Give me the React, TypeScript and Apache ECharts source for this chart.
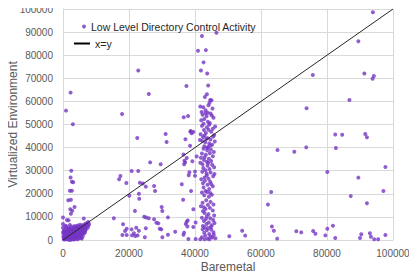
import React, { useEffect, useRef } from "react";
import * as echarts from "echarts";

const seriesName = "Low Level Directory Control Activity";
const lineName = "x=y";
const xAxisTitle = "Baremetal";
const yAxisTitle = "Virtualized Environment";

// [baremetal, virtualized]
const scatteredPoints: number[][] = [
  [2300, 63800], [900, 56000], [3000, 50100], [22800, 73400], [26000, 63200], [17900, 54500],
  [36600, 53100], [22500, 44200], [31100, 45900], [31400, 42400],
  [42100, 88300], [46500, 89700], [40900, 81900], [43300, 82200], [42600, 76900], [41800, 73400],
  [43700, 72100], [44000, 66900], [37400, 66700], [43600, 63100], [43000, 61900], [44600, 60600],
  [45000, 60500], [44400, 59400], [37900, 53700],
  [93900, 98600], [89500, 86000], [75700, 71400], [91300, 72100], [94200, 71000], [93800, 69800],
  [86800, 60600], [73800, 57000], [82500, 45700], [84600, 45600], [91600, 45900], [92100, 44500],
  [65000, 39000], [70100, 38200], [73700, 40100], [82700, 39800], [97700, 31600], [80100, 29400],
  [89500, 27000], [63100, 20800], [97100, 21200], [87200, 19000], [92100, 15900], [62100, 15400],
  [63300, 5800], [63900, 4000], [64900, 600], [70700, 3800], [72200, 3300], [75800, 3900],
  [76500, 2700], [79500, 2000], [80100, 4900], [81800, 6200], [82500, 900], [90000, 900],
  [90400, 2500], [93000, 2900], [93300, 1400], [94300, 300], [95500, 300], [97700, 2200],
  [50400, 1600], [54300, 4000], [55200, 1900],
  [22800, 29900], [20800, 29900], [26400, 33600], [29600, 32800], [36500, 37000], [37500, 35500],
  [37000, 33600], [36700, 32800], [39000, 46200], [39500, 46800], [38500, 40800], [39200, 34100],
  [38300, 29300], [38100, 28000], [36000, 24100], [38800, 21200], [36400, 17400], [39500, 13300],
  [23300, 24800], [24200, 24500], [25100, 23100], [27600, 23400], [27900, 21200], [23000, 20000],
  [23100, 17900], [21800, 12600], [29900, 14300], [30100, 12600],
  [24600, 10100], [25200, 9700], [26000, 9400], [27600, 9000], [28300, 7500], [28900, 7200],
  [31800, 9800], [37800, 8500], [37200, 6900], [39500, 5600],
  [22200, 5300], [20800, 4600], [23000, 4000], [21500, 2900], [20900, 2000], [21900, 1700],
  [22600, 2000], [25100, 5100], [24800, 1200], [29300, 4900], [29800, 4600], [30100, 1200],
  [31800, 2300], [34000, 3600], [36500, 2300], [38000, 400], [40200, 400],
  [15400, 9400], [18200, 6800], [19300, 4900], [18800, 3900], [18000, 2200], [19300, 2200],
  [17400, 27700], [17000, 26300], [19200, 24700], [20100, 19200],
  [38600, 46900], [37100, 43600], [36800, 34300], [37500, 7900], [36700, 3200], [37700, 5800],
  [40500, 36200], [40000, 29600], [40000, 27800], [40200, 7600], [38700, 47200],
];

const bandPoints: number[][] = [
  [42500, 57500], [43200, 56200], [44100, 58300], [42000, 55400], [45300, 56900], [43800, 55100], [41600, 57800],
  [42300, 54200], [43500, 53600], [44700, 54800], [42800, 52400], [45600, 52900], [41900, 51800], [43900, 51200],
  [44500, 50600], [42600, 50300], [45100, 53900], [43200, 54900],
  [42100, 49400], [43600, 48800], [44300, 49900], [45400, 48200], [42700, 47600], [44900, 46900], [43300, 46300],
  [41700, 45800], [45800, 45400], [44100, 47700], [42900, 45200], [46100, 49100],
  [42400, 44600], [43800, 44100], [44700, 43500], [45500, 44800], [42200, 42900], [43100, 42300], [44300, 41800],
  [45200, 41200], [42800, 40600], [43900, 40200], [41500, 43300], [46000, 42600], [44600, 40900], [43400, 43700],
  [42600, 39500], [43700, 38800], [44800, 39200], [45700, 38100], [42100, 37400], [43300, 36900], [44500, 37600],
  [42900, 35800], [44200, 35200], [45400, 36300], [41800, 35600], [43700, 39900],
  [42700, 34600], [43600, 33900], [44900, 34200], [42300, 32800], [43800, 32100], [45200, 32600], [42500, 31200],
  [44400, 30700], [43200, 30200], [45800, 31500], [41600, 33400], [44000, 33300],
  [42200, 29500], [43500, 28800], [44700, 29200], [45500, 27600], [42900, 27100], [44100, 26500], [43000, 25600],
  [44600, 25200], [41900, 26300], [45900, 28600], [43600, 27900],
  [42400, 24600], [43800, 23900], [44900, 24200], [42600, 22700], [44300, 22100], [45400, 23300], [43200, 21200],
  [42100, 20600], [44600, 20300], [43700, 20800],
  [42800, 19400], [44200, 18700], [45100, 19600], [43400, 17200], [44700, 16500], [42300, 16100], [45600, 15400],
  [43900, 15200],
  [41800, 14600], [42700, 14200], [43200, 13400], [44500, 13900], [45400, 12800], [42900, 11700], [44100, 11200],
  [45800, 10600], [43600, 10300], [42400, 12500],
  [42100, 9600], [43300, 9100], [44600, 9400], [45500, 8700], [42700, 8200], [44200, 7600], [43500, 6900],
  [45100, 6400], [42400, 6100], [44800, 5600], [43900, 5200], [45900, 7400], [42900, 5400],
  [42300, 4600], [43600, 4200], [44900, 4500], [45600, 3400], [42800, 3100], [44300, 2600], [43100, 1900],
  [44700, 1500], [42100, 1200], [45300, 1100], [43800, 600], [41600, 300], [44400, 300], [46200, 800],
  [42900, 300], [45700, 2300],
];

const originPoints: number[][] = [
  [200, 300], [600, 1100], [900, 400], [1300, 1800], [1700, 700], [2100, 2400], [2500, 1200], [2900, 300],
  [3300, 2000], [3700, 900], [400, 2200], [800, 3100], [1200, 2700], [1600, 3600], [2000, 1600], [2400, 3200],
  [2800, 2600], [3200, 3800], [3600, 2900], [4000, 3400], [4400, 2100], [4800, 3900], [5200, 4400], [5600, 3600],
  [6000, 4900], [6400, 5600], [6800, 5100], [7200, 6000], [5400, 5800], [4600, 5200], [300, 4100], [700, 4800],
  [1100, 3900], [1500, 4500], [1900, 4200], [2300, 4900], [2700, 4400], [3100, 5100], [3500, 4700], [3900, 5600],
  [4300, 4600], [4700, 4300], [5100, 3100], [5500, 2600], [5900, 3300], [6300, 4100], [6700, 3800], [3800, 1400],
  [4200, 600], [4600, 1300], [5000, 900], [5400, 1800], [100, 1500], [100, 2900], [100, 3600], [0, 5300],
  [0, 6900], [2100, 6500], [7200, 6500], [1000, 5800], [1400, 200], [1800, 1200], [2200, 300], [2600, 2000],
  [3000, 1000], [3400, 200], [3000, 3000], [2600, 3600], [2200, 2900], [1800, 2600], [1400, 1300], [1000, 2000],
  [600, 2600], [200, 3300], [500, 200], [3900, 2600], [4300, 3100], [4900, 2800], [5300, 3700], [5700, 4500],
  [6100, 3900], [6500, 4600], [5800, 5300], [5000, 4900], [4400, 4000], [3400, 4300], [2900, 4000], [2000, 3700],
  [1300, 3300], [800, 1600], [6900, 4400], [7500, 5300], [6200, 6100], [4000, 6000], [3200, 700], [4800, 1700],
  [2400, 100], [1200, 800], [5500, 1000], [3600, 3500], [1600, 5200], [2500, 5600], [700, 3500], [4100, 1900],
  [6600, 3100],
  [7600, 7800], [7000, 7200], [6600, 6800], [7900, 6900], [5900, 6400], [6900, 5700], [7700, 6300], [5200, 6600],
  [4500, 6300], [3300, 6000], [800, 6200], [4700, 3200], [5100, 2200], [6200, 2700], [6000, 1600], [3100, 1500],
  [2700, 700], [1500, 2400], [900, 900], [300, 800], [1900, 100], [3600, 400], [4500, 300], [5700, 600],
  [2300, 1900], [3500, 1300], [1000, 3100], [2000, 4800], [5000, 5600], [4200, 5200],
  [2500, 30000], [2300, 27100], [2700, 25200], [3100, 25000], [2100, 21300], [2700, 21300], [1600, 17200],
  [2400, 17400], [3500, 14300], [2200, 13300], [2800, 12700], [2400, 11400], [0, 9700], [1200, 8700],
  [1700, 8500], [6300, 9300],
];

const identityLine: number[][] = [[0, 0], [100000, 100000]];

const FONT = "Liberation Sans";
const GRAY = "#595959";

export default function App() {
  const ref = useRef<HTMLDivElement>(null);
  useEffect(() => {
    if (!ref.current) return;
    const chart = echarts.init(ref.current, null, { renderer: "svg" });
    chart.setOption({
      animation: false,
      textStyle: { fontFamily: FONT },
      grid: { left: 63, right: 24, top: 9, bottom: 35, containLabel: false, outerBoundsMode: "none" },
      legend: [
        {
          data: [{ name: seriesName, icon: "circle" }],
          left: 77,
          top: 16,
          itemWidth: 4,
          itemHeight: 4,
          itemGap: 0,
          textStyle: { fontFamily: FONT, fontSize: 10.5, color: "#262626" },
        },
        {
          data: [{ name: lineName, icon: "rect" }],
          left: 69,
          top: 33,
          itemWidth: 16,
          itemHeight: 2,
          textStyle: { fontFamily: FONT, fontSize: 10.5, color: "#262626" },
        },
      ],
      xAxis: {
        type: "value",
        min: 0,
        max: 100000,
        interval: 20000,
        name: xAxisTitle,
        nameLocation: "middle",
        nameGap: 21,
        nameMoveOverlap: false,
        nameTextStyle: { fontFamily: FONT, fontSize: 12, color: GRAY },
        axisLine: { show: true, lineStyle: { color: "#d9d9d9" } },
        axisTick: { show: false },
        axisLabel: { fontFamily: FONT, fontSize: 10, color: GRAY, margin: 8, formatter: (v: number) => String(v) },
        splitLine: { show: true, lineStyle: { color: "#d9d9d9" } },
      },
      yAxis: {
        type: "value",
        min: 0,
        max: 100000,
        interval: 10000,
        name: yAxisTitle,
        nameLocation: "middle",
        nameGap: 44,
        nameMoveOverlap: false,
        nameTextStyle: { fontFamily: FONT, fontSize: 12, color: GRAY },
        axisLine: { show: true, lineStyle: { color: "#d9d9d9" } },
        axisTick: { show: false },
        axisLabel: { fontFamily: FONT, fontSize: 10, color: GRAY, margin: 10, formatter: (v: number) => String(v) },
        splitLine: { show: true, lineStyle: { color: "#d9d9d9" } },
      },
      series: [
        {
          name: seriesName,
          type: "scatter",
          symbol: "circle",
          symbolSize: 4,
          itemStyle: { color: "#7636c4" },
          data: [...scatteredPoints, ...bandPoints, ...originPoints],
          z: 2,
        },
        {
          name: lineName,
          type: "line",
          data: identityLine,
          symbol: "none",
          lineStyle: { color: "#262626", width: 1 },
          itemStyle: { color: "#000000" },
          z: 3,
        },
      ],
    });
    return () => chart.dispose();
  }, []);
  return <div ref={ref} style={{ width: 417, height: 275, marginLeft: -8, marginTop: -8 }} />;
}
